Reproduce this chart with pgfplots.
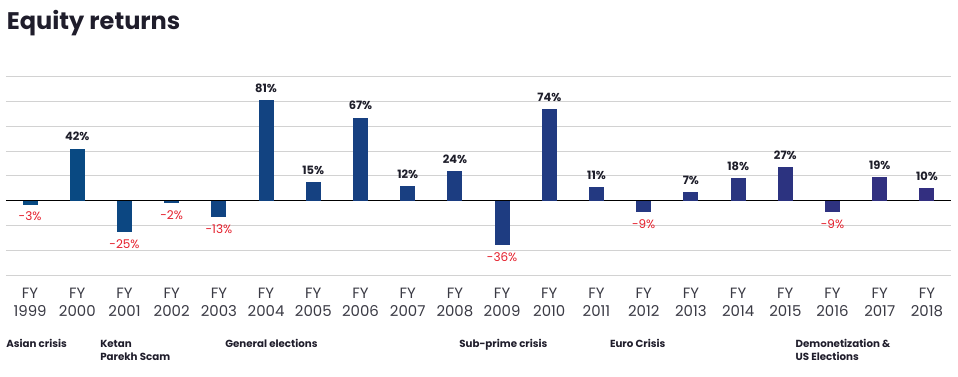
\documentclass[border=0pt]{standalone}
\usepackage{pgfplots}
\pgfplotsset{compat=1.18}
\usepackage{fontspec}
\setmainfont{Poppins}
\definecolor{bA}{HTML}{074A82}
\definecolor{bB}{HTML}{332F80}
\definecolor{lblpos}{HTML}{1E1E2A}
\definecolor{lblneg}{HTML}{E41E2B}
\definecolor{titlec}{HTML}{1F1D2B}
\definecolor{tickc}{HTML}{3A3A44}
\definecolor{gridc}{HTML}{D2D2D2}
\newcommand{\posbar}[3]{\addplot[fill=bB!#3!bA, draw=none, nodes near coords={\pgfmathprintnumber{\pgfplotspointmeta}\%},
  every node near coord/.append style={text=lblpos, font=\bfseries\fontsize{8.6}{9}\selectfont, yshift=2.2pt}] coordinates {(#1,#2)};}
\newcommand{\negbar}[3]{\addplot[fill=bB!#3!bA, draw=none, nodes near coords={\pgfmathprintnumber{\pgfplotspointmeta}\%},
  every node near coord/.append style={text=lblneg, font=\fontsize{9}{9}\selectfont, yshift=-2.2pt}] coordinates {(#1,#2)};}
\begin{document}
\begin{tikzpicture}
\useasboundingbox (0,0) rectangle (718.5pt,282.75pt);
\node[anchor=base west, font=\bfseries\fontsize{18}{20}\selectfont, text=titlec, inner sep=0pt] at (5pt,260.8pt) {Equity returns};
\begin{axis}[
  at={(4.5pt,76.3pt)}, anchor=south west,
  scale only axis, width=708.75pt, height=148.95pt,
  xmin=-0.51, xmax=19.51, ymin=-60, ymax=100,
  axis line style={draw=none},
  ybar, bar width=11.25pt, bar shift=0pt,
  ytick={-60,-40,...,100}, yticklabels={},
  ymajorgrids, grid style={gridc, line width=0.8pt},
  extra y ticks={0}, extra y tick labels={}, extra y tick style={grid style={black, line width=0.8pt}},
  xtick={0,...,19}, major tick length=0pt, tick style={draw=none},
  xticklabels={{FY\\1999},{FY\\2000},{FY\\2001},{FY\\2002},{FY\\2003},{FY\\2004},{FY\\2005},{FY\\2006},{FY\\2007},{FY\\2008},{FY\\2009},{FY\\2010},{FY\\2011},{FY\\2012},{FY\\2013},{FY\\2014},{FY\\2015},{FY\\2016},{FY\\2017},{FY\\2018}},
  xticklabel style={align=center, font=\fontsize{11.2}{13.3}\selectfont, text=tickc, yshift=-6.3pt},
  /pgf/number format/assume math mode=true,
  clip=false,
]
\negbar{0}{-3}{0}
\posbar{1}{42}{5}
\negbar{2}{-25}{11}
\negbar{3}{-2}{16}
\negbar{4}{-13}{21}
\posbar{5}{81}{26}
\posbar{6}{15}{32}
\posbar{7}{67}{37}
\posbar{8}{12}{42}
\posbar{9}{24}{47}
\negbar{10}{-36}{53}
\posbar{11}{74}{58}
\posbar{12}{11}{63}
\negbar{13}{-9}{68}
\posbar{14}{7}{74}
\posbar{15}{18}{79}
\posbar{16}{27}{84}
\negbar{17}{-9}{89}
\posbar{18}{19}{95}
\posbar{19}{10}{100}
\end{axis}
\begin{scope}[every node/.style={anchor=base west, inner sep=0pt, font=\bfseries\fontsize{7.7}{8}\selectfont, text=titlec}]
\node at (4.5pt,21.75pt) {Asian crisis};
\node at (75pt,21.75pt) {Ketan};
\node at (75pt,12.2pt) {Parekh Scam};
\node at (168.8pt,21.75pt) {General elections};
\node at (344.3pt,21.75pt) {Sub-prime crisis};
\node at (457.3pt,21.75pt) {Euro Crisis};
\node at (596.5pt,21.75pt) {Demonetization \&};
\node at (596.5pt,12.2pt) {US Elections};
\end{scope}
\end{tikzpicture}
\end{document}
